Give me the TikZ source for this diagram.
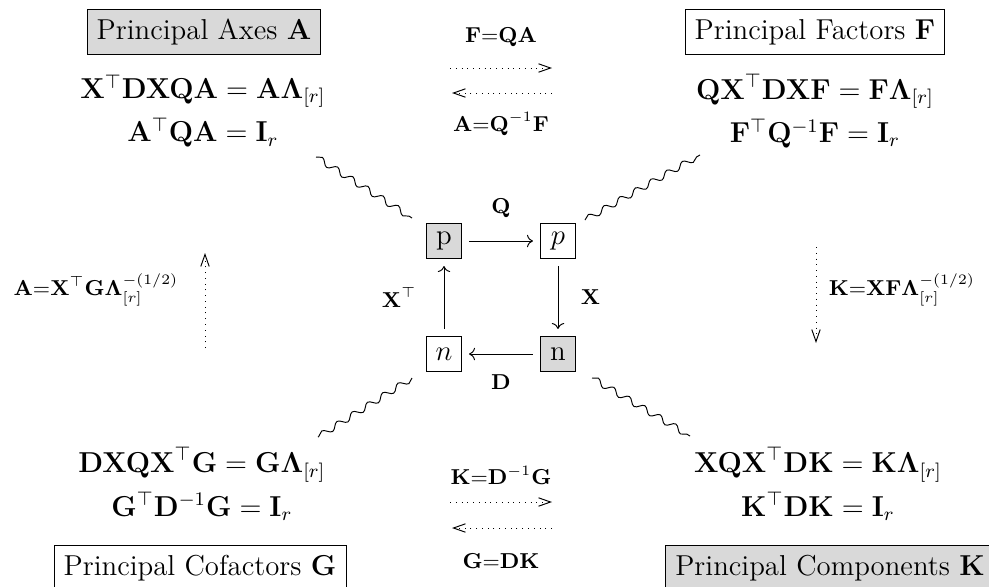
\documentclass[tikz,border=0pt]{standalone}
\usepackage{amsmath,amssymb}
\usetikzlibrary{arrows.meta, decorations.pathmorphing}

\begin{document}
\begin{tikzpicture}[
  x=0.41667pt, y=-0.41667pt,
  every node/.style={font=\large},
  corner/.style={draw, inner sep=4pt},
  shaded/.style={fill=black!15},
  vtx/.style={draw, inner sep=3pt, minimum size=14.5pt},
  eqn/.style={align=center, inner sep=2pt},
  lbl/.style={font=\small},
  map/.style={->, shorten >=3pt, shorten <=3pt},
  dual/.style={dotted, -{Straight Barb[length=5pt,width=3.5pt]}},
  squig/.style={decorate, decoration={snake, amplitude=1.3pt, segment length=7.5pt}},
]
\useasboundingbox (0,0) rectangle (989,586);

% Corner boxes
\node[corner, shaded] (boxA) at (204,32)  {Principal Axes $\mathbf{A}$};
\node[corner]         (boxF) at (815,32)  {Principal Factors $\mathbf{F}$};
\node[corner]         (boxG) at (200,568) {Principal Cofactors $\mathbf{G}$};
\node[corner, shaded] (boxK) at (830,568) {Principal Components $\mathbf{K}$};

% Eigen equations
\node[eqn] (eqA) at (203,111) {$\mathbf{X}^\top\mathbf{DXQA} = \mathbf{A}\boldsymbol{\Lambda}_{[r]}$\\[4pt]
  $\mathbf{A}^\top\mathbf{QA} = \mathbf{I}_r$};
\node[eqn] (eqF) at (815,111) {$\mathbf{QX}^\top\mathbf{DXF} = \mathbf{F}\boldsymbol{\Lambda}_{[r]}$\\[4pt]
  $\mathbf{F}^\top\mathbf{Q}^{-1}\mathbf{F} = \mathbf{I}_r$};
\node[eqn] (eqG) at (202,484) {$\mathbf{DXQX}^\top\mathbf{G} = \mathbf{G}\boldsymbol{\Lambda}_{[r]}$\\[4pt]
  $\mathbf{G}^\top\mathbf{D}^{-1}\mathbf{G} = \mathbf{I}_r$};
\node[eqn] (eqK) at (818,484) {$\mathbf{XQX}^\top\mathbf{DK} = \mathbf{K}\boldsymbol{\Lambda}_{[r]}$\\[4pt]
  $\mathbf{K}^\top\mathbf{DK} = \mathbf{I}_r$};

% Central square
\node[vtx, shaded] (pA) at (444,241) {p};
\node[vtx]         (pF) at (558,241) {$p$};
\node[vtx, shaded] (nK) at (558,354) {n};
\node[vtx]         (nG) at (444,354) {$n$};

\draw[map] (pA) -- node[lbl, above=6pt] {$\mathbf{Q}$} (pF);
\draw[map] (pF) -- node[lbl, right=6pt] {$\mathbf{X}$} (nK);
\draw[map] (nK) -- node[lbl, below=5pt] {$\mathbf{D}$} (nG);
\draw[map] (nG) -- node[lbl, left=8pt] {$\mathbf{X}^\top$} (pA);

% Squiggly links
\coordinate (wA) at (316,157);
\coordinate (wF) at (700,155);
\coordinate (wG) at (318,437);
\coordinate (wK) at (690,436);
\coordinate (vA) at (412,218);
\coordinate (vF) at (585,220);
\coordinate (vG) at (412,378);
\coordinate (vK) at (592,378);
\draw[squig] (wA) -- (vA);
\draw[squig] (vF) -- (wF);
\draw[squig] (vG) -- (wG);
\draw[squig] (vK) -- (wK);

% Dual maps
\coordinate (tl1) at (450,68);  \coordinate (tr1) at (552,68);
\coordinate (tl2) at (452,93);  \coordinate (tr2) at (552,93);
\coordinate (bl1) at (450,502); \coordinate (br1) at (552,502);
\coordinate (bl2) at (452,528); \coordinate (br2) at (552,528);
\coordinate (lb) at (205,348);  \coordinate (lt) at (205,253);
\coordinate (rt) at (816,247);  \coordinate (rb) at (816,343);
\draw[dual] (tl1) -- (tr1);
\draw[dual] (tr2) -- (tl2);
\draw[dual] (bl1) -- (br1);
\draw[dual] (br2) -- (bl2);
\draw[dual] (lb) -- (lt);
\draw[dual] (rt) -- (rb);

\node[lbl] (lFA) at (501,37)  {$\mathbf{F}{=}\mathbf{QA}$};
\node[lbl] (lAF) at (501,124) {$\mathbf{A}{=}\mathbf{Q}^{-1}\mathbf{F}$};
\node[lbl] (lKG) at (501,475) {$\mathbf{K}{=}\mathbf{D}^{-1}\mathbf{G}$};
\node[lbl] (lGK) at (501,561) {$\mathbf{G}{=}\mathbf{DK}$};
\node[lbl] (lAG) at (96,290)  {$\mathbf{A}{=}\mathbf{X}^\top\mathbf{G}\boldsymbol{\Lambda}_{[r]}^{-(1/2)}$};
\node[lbl] (lKF) at (902,290) {$\mathbf{K}{=}\mathbf{XF}\boldsymbol{\Lambda}_{[r]}^{-(1/2)}$};
\end{tikzpicture}
\end{document}
